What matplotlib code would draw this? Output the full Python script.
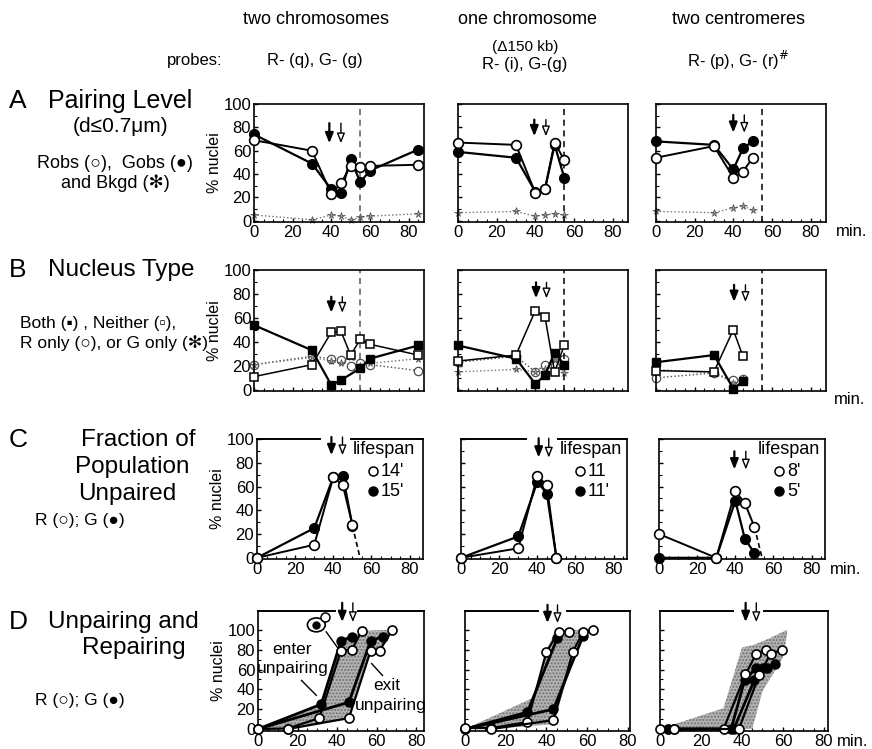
import matplotlib
matplotlib.use('Agg')
import matplotlib.pyplot as plt
from matplotlib.patches import Ellipse

plt.rcParams['font.family'] = ['Liberation Sans', 'DejaVu Sans']

# ---- data ----
# A: pairing level
A1_t = [0, 30, 40, 45, 50, 55, 60, 85]
A1_R = [69, 60, 23, 32, 47, 46, 47, 48]
A1_G = [74, 49, 27, 24, 53, 33, 43, 61]
A1_bg = [5, 1, 5, 4, 1, 3, 4, 6]

A2_t = [0, 30, 40, 45, 50, 55]
A2_R = [67, 65, 24, 27, 67, 52]
A2_G = [59, 54, 25, 27, 65, 37]
A2_bg = [7, 8, 4, 5, 6, 5]

A3_t = [0, 30, 40, 45, 50]
A3_R = [54, 64, 37, 42, 54]
A3_G = [68, 65, 44, 62, 68]
A3_bg = [8, 7, 11, 13, 9]

# B: nucleus type
B1_t = [0, 30, 40, 45, 50, 55, 60, 85]
B1_both_t = [0, 30, 40, 45, 55, 60, 85]
B1_both = [54, 33, 4, 8, 18, 26, 37]
B1_neither = [11, 21, 48, 49, 29, 42, 38, 29]
B1_Ronly = [21, 28, 26, 25, 20, 22, 21, 16]
B1_Gonly = [21, 27, 24, 22, 27, 20, 22, 26]

B2_t = [0, 30, 40, 45, 50, 55]
B2_both = [37, 26, 5, 12, 31, 21]
B2_neither = [24, 29, 66, 61, 15, 37]
B2_Ronly = [23, 28, 15, 21, 21, 26]
B2_Gonly = [15, 17, 15, 17, 25, 14]

B3_t = [0, 30, 40, 45]
B3_both = [23, 29, 1, 7]
B3_neither = [16, 15, 50, 28]
B3_Ronly = [10, 14, 8, 9]
B3_Gonly = [17, 14, 6, 9]

# C: fraction unpaired
C1_t = [0, 30, 40, 45, 50]
C1_R = [0, 11, 68, 61, 28]
C1_G = [0, 25, 68, 69, 27]
C1_ext = ([50, 54], [27, 0])
C1_life = ["14'", "15'"]

C2_t = [0, 30, 40, 45, 50]
C2_R = [0, 8, 69, 61, 0]
C2_G = [0, 18, 64, 54, 0]
C2_life = ["11", "11'"]

C3_t = [0, 30, 40, 45, 50]
C3_R = [20, 0, 56, 46, 26]
C3_G = [0, 0, 48, 16, 4]
C3_ext = ([50, 54], [26, 0])
C3_life = ["8'", "5'"]

# D: unpairing and repairing (cumulative)
D1_Ren_t = [0, 15, 31, 42, 47.5, 52.5]
D1_Ren = [0, 0.5, 11, 79, 80, 99]
D1_Gen_t = [0, 32, 42, 47.5]
D1_Gen = [0, 25, 89, 93]
D1_Rex_t = [15, 46, 57, 61.5, 68]
D1_Rex = [0, 11, 79, 79, 100]
D1_Gex_t = [0, 46, 57, 63]
D1_Gex = [0, 27, 89, 93]
D1_shade_x = [0, 32, 42, 48, 53, 66, 68, 61.5, 57, 46, 15]
D1_shade_y = [0, 25, 88, 93, 99, 100, 100, 79, 79, 11, 0]

D2_Ren_t = [0, 13, 30.6, 40, 46, 51]
D2_Ren = [1, 1, 7, 78, 98, 98]
D2_Gen_t = [0, 30.6, 45.4]
D2_Gen = [0, 17, 92]
D2_Rex_t = [13, 43.4, 53, 58, 63]
D2_Rex = [0, 9, 78, 98, 100]
D2_Gex_t = [0, 43.4, 58]
D2_Gex = [0, 20, 94]
D2_shade_x = [0, 33, 37, 40, 44, 51, 57, 56, 53, 47, 44, 13]
D2_shade_y = [0, 31, 48, 78, 98, 100, 100, 98, 68, 30, 5, 0]

D3_Ren_t = [0, 7, 31, 41.7, 47, 51.7]
D3_Ren = [0, 0, 0, 55, 76, 80]
D3_Gen_t = [4, 34.7, 41.3, 47, 50.5]
D3_Gen = [0, 0, 49, 62, 62]
D3_Rex_t = [7, 38.5, 48.3, 54, 59.7]
D3_Rex = [0, 0, 54, 76, 80]
D3_Gex_t = [4, 36, 46, 52, 56.3]
D3_Gex = [0, 0, 49, 62, 66]
D3_shade_x = [0, 31, 40, 46, 53, 62, 62, 60, 50, 45, 38]
D3_shade_y = [0, 21, 82, 85, 91, 100, 95, 72, 38, 0, 0]

W, H = 872, 749
fig = plt.figure(figsize=(W / 100, H / 100), dpi=100)


def make_ax(l, t, r, b, xmax, ylim, ylab=True, xlab=True):
    ax = fig.add_axes([l / W, 1 - b / H, (r - l) / W, (b - t) / H])
    ax.set_xlim(0, xmax)
    ax.set_ylim(*ylim)
    ax.set_xticks([0, 20, 40, 60, 80])
    ax.set_xticks(range(0, int(xmax) + 1, 5), minor=True)
    ax.set_yticks([0, 20, 40, 60, 80, 100])
    ax.set_yticks(range(0, 101, 10), minor=True)
    ax.tick_params(direction='in', length=3, width=1, labelsize=12, pad=2)
    ax.tick_params(which='minor', direction='in', length=2, width=0.8)
    ax.tick_params(labelleft=ylab, labelbottom=xlab)
    for s in ax.spines.values():
        s.set_linewidth(1.2)
    return ax


def open_c(ax, t, v, ms=7, lw=1.4):
    ax.plot(t, v, '-o', color='k', lw=lw, ms=ms, mfc='white', mec='k', mew=1.2, clip_on=False, zorder=4)


def fill_c(ax, t, v, ms=7, lw=1.6):
    ax.plot(t, v, '-o', color='k', lw=lw, ms=ms, mfc='k', mec='k', clip_on=False, zorder=3)


def star(ax, t, v):
    ax.plot(t, v, ':', color='0.45', lw=1.0, marker='*', ms=5.5, mfc='0.6', mec='0.3', mew=0.5, clip_on=False, zorder=2)


def arrows(ax, x1, x2, ytop, ybot):
    ax.annotate('', xy=(x1, ybot), xytext=(x1, ytop), annotation_clip=False, zorder=6,
                arrowprops=dict(arrowstyle='-|>,head_width=0.24,head_length=0.6', fc='k', ec='k', lw=1.6))
    ax.annotate('', xy=(x2, ybot), xytext=(x2, ytop), annotation_clip=False, zorder=6,
                arrowprops=dict(arrowstyle='-|>,head_width=0.24,head_length=0.6', fc='white', ec='k', lw=1.0))


def broken_top(ax, gap_from, gap_to, ytop, xmax):
    ax.spines['top'].set_visible(False)
    ax.plot([0, gap_from], [ytop, ytop], color='k', lw=1.4, clip_on=False)
    ax.plot([gap_to, xmax], [ytop, ytop], color='k', lw=1.4, clip_on=False)


cols_AB = [254, 458, 656]

# ---- row A ----
A_sets = [(A1_t, A1_R, A1_G, A1_bg), (A2_t, A2_R, A2_G, A2_bg), (A3_t, A3_R, A3_G, A3_bg)]
A_arrows = [(39, 45, 86, 64), (39.5, 45.5, 89, 70), (40, 45.7, 93, 73)]
for i, (t, r, g, bg) in enumerate(A_sets):
    ax = make_ax(cols_AB[i], 104, cols_AB[i] + 170, 222, 88, (-1, 100), ylab=(i == 0))
    star(ax, t, bg)
    fill_c(ax, t, g)
    open_c(ax, t, r)
    ax.axvline(55, color='0.35' if i == 0 else 'k', ls=(0, (4, 3)), lw=1.1)
    arrows(ax, *A_arrows[i])
    if i == 0:
        ax.set_ylabel('% nuclei', fontsize=11.5, labelpad=1)

# ---- row B ----
B_sets = [(B1_t, B1_both_t, B1_both, B1_neither, B1_Ronly, B1_Gonly),
          (B2_t, B2_t, B2_both, B2_neither, B2_Ronly, B2_Gonly),
          (B3_t, B3_t, B3_both, B3_neither, B3_Ronly, B3_Gonly)]
B_arrows = [(40, 45.7, 80, 62), (40.4, 45.8, 92, 74), (40.4, 46.3, 90, 71)]
for i, (t, tb, both, nei, ro, go) in enumerate(B_sets):
    ax = make_ax(cols_AB[i], 270, cols_AB[i] + 170, 391, 88, (-1, 100), ylab=(i == 0), xlab=False)
    ax.plot(t, ro, ':o', color='0.3', lw=1.0, ms=6, mfc='white', mec='0.3', mew=0.9, clip_on=False, zorder=2)
    star(ax, t, go)
    ax.plot(t, nei, '-s', color='k', lw=1.1, ms=6, mfc='white', mec='k', mew=1.1, clip_on=False, zorder=4)
    ax.plot(tb, both, '-s', color='k', lw=1.6, ms=6, mfc='k', mec='k', clip_on=False, zorder=3)
    ax.axvline(55, color='0.35' if i == 0 else 'k', ls=(0, (4, 3)), lw=1.1)
    arrows(ax, *B_arrows[i])
    if i == 0:
        ax.set_ylabel('% nuclei', fontsize=11.5, labelpad=1)

# ---- row C ----
cols_C = [257, 461, 659]
C_sets = [(C1_t, C1_R, C1_G, C1_ext, C1_life), (C2_t, C2_R, C2_G, None, C2_life),
          (C3_t, C3_R, C3_G, C3_ext, C3_life)]
C_arrows = [(39, 44.8, 104, 84), (40.7, 46, 103, 82), (39.5, 45.5, 92, 72)]
C_gaps = [(33, 49.5), (34, 51), None]
C_leg_x = [50, 51.5, 52]
for i, (t, r, g, ext, life) in enumerate(C_sets):
    ax = make_ax(cols_C[i], 439, cols_C[i] + 166, 559, 87, (-1, 100), ylab=(i == 0))
    if C_gaps[i]:
        broken_top(ax, C_gaps[i][0], C_gaps[i][1], 100, 87)
    if ext:
        ax.plot(ext[0], ext[1], color='k', ls=(0, (3, 2)), lw=1.2)
    fill_c(ax, t, g)
    open_c(ax, t, r)
    arrows(ax, *C_arrows[i])
    lx = C_leg_x[i]
    ax.text(lx, 91, 'lifespan', fontsize=13, va='center', ha='left')
    ax.plot([lx + 11], [73], 'o', ms=6.5, mfc='white', mec='k', mew=1.1, clip_on=False)
    ax.plot([lx + 11], [56], 'o', ms=6.5, mfc='k', mec='k', clip_on=False)
    ax.text(lx + 15, 73, life[0], fontsize=13, va='center', ha='left')
    ax.text(lx + 15, 56, life[1], fontsize=13, va='center', ha='left')
    if i == 0:
        ax.set_ylabel('% nuclei', fontsize=11.5, labelpad=1)

# ---- row D ----
D_boxes = [(258, 424, 84), (465, 630, 81), (660, 828, 82)]
D_sets = [(D1_Ren_t, D1_Ren, D1_Gen_t, D1_Gen, D1_Rex_t, D1_Rex, D1_Gex_t, D1_Gex, D1_shade_x, D1_shade_y),
          (D2_Ren_t, D2_Ren, D2_Gen_t, D2_Gen, D2_Rex_t, D2_Rex, D2_Gex_t, D2_Gex, D2_shade_x, D2_shade_y),
          (D3_Ren_t, D3_Ren, D3_Gen_t, D3_Gen, D3_Rex_t, D3_Rex, D3_Gex_t, D3_Gex, D3_shade_x, D3_shade_y)]
D_arrows = [(42.6, 48, 130, 105), (40.5, 45.4, 128, 104), (41.8, 47, 130, 105)]
D_gaps = [(39, 50.5), (36, 50), (35.5, 51)]
for i, (rt, rv, gt, gv, xt, xv, yt, yv, sx, sy) in enumerate(D_sets):
    l, r, xmax = D_boxes[i]
    ax = make_ax(l, 611, r, 731, xmax, (-2, 119), ylab=(i == 0))
    broken_top(ax, D_gaps[i][0], D_gaps[i][1], 119, xmax)
    ax.fill(sx, sy, facecolor='0.7', edgecolor='0.45', hatch='.....', lw=0, zorder=1)
    fill_c(ax, gt, gv, ms=6.5, lw=2)
    fill_c(ax, yt, yv, ms=6.5, lw=2)
    open_c(ax, rt, rv, ms=6.5, lw=1.6)
    open_c(ax, xt, xv, ms=6.5, lw=1.6)
    arrows(ax, *D_arrows[i])
    if i == 0:
        ax.set_ylabel('% nuclei', fontsize=11.5, labelpad=1)
        ax.text(17, 80, 'enter', fontsize=12.5, ha='center', va='center')
        ax.text(17.5, 61, 'unpairing', fontsize=12.5, ha='center', va='center')
        ax.plot([22, 29.5], [49, 34], color='k', lw=1)
        ax.text(65, 44, 'exit', fontsize=12.5, ha='center', va='center')
        ax.text(67, 24, 'unpairing', fontsize=12.5, ha='center', va='center')
        ax.plot([57.5, 63], [66, 54], color='k', lw=1)
        # nucleus icon
        ax.add_patch(Ellipse((29.5, 105), 9, 14, facecolor='white', edgecolor='k', lw=1.2, clip_on=False, zorder=5))
        ax.plot([29.5], [105], 'o', ms=5, color='k', clip_on=False, zorder=6)
        ax.plot([34], [113], 'o', ms=6.5, mfc='white', mec='k', mew=1.1, clip_on=False, zorder=6)
        ax.plot([34.5, 41], [98, 80], color='k', lw=1)

# ---- "min." labels ----
fig.text(836 / W, 1 - 232 / H, 'min.', fontsize=12, va='center', ha='left')
fig.text(834 / W, 1 - 400 / H, 'min.', fontsize=12, va='center', ha='left')
fig.text(830 / W, 1 - 569 / H, 'min.', fontsize=12, va='center', ha='left')
fig.text(837 / W, 1 - 742 / H, 'min.', fontsize=12, va='center', ha='left')


def ft(x, y, s, **kw):
    fig.text(x / W, 1 - y / H, s, va='center', **kw)


# ---- headers ----
ft(316, 20, 'two chromosomes', fontsize=13, ha='center')
ft(527, 20, 'one chromosome', fontsize=13, ha='center')
ft(738, 20, 'two centromeres', fontsize=13, ha='center')
ft(195, 60, 'probes:', fontsize=12, ha='center')
ft(315, 60, 'R- (q), G- (g)', fontsize=12, ha='center')
ft(525, 47, '(\u0394150 kb)', fontsize=11, ha='center')
ft(525, 65, 'R- (i), G-(g)', fontsize=12, ha='center')
ft(738, 60, 'R- (p), G- (r)$^{\\#}$', fontsize=12, ha='center')

# ---- left labels ----
ft(18, 101, 'A', fontsize=19, ha='center')
ft(48, 101, 'Pairing Level', fontsize=18, ha='left')
ft(121, 126, '(d\u22640.7\u03bcm)', fontsize=15, ha='center')
ft(115, 163, 'Robs (\u25cb),  Gobs (\u25cf)', fontsize=13, ha='center')
ft(115, 183, 'and Bkgd (\u273b)', fontsize=13, ha='center')

ft(18, 270, 'B', fontsize=19, ha='center')
ft(48, 270, 'Nucleus Type', fontsize=17.5, ha='left')
ft(20, 323, 'Both (\u25aa) , Neither (\u25ab),', fontsize=12.5, ha='left')
ft(20, 343, 'R only (\u25cb), or G only (\u273b)', fontsize=12.5, ha='left')

ft(18, 440, 'C', fontsize=19, ha='center')
ft(138, 440, 'Fraction of', fontsize=17.5, ha='center')
ft(132, 467, 'Population', fontsize=17.5, ha='center')
ft(127, 494, 'Unpaired', fontsize=17.5, ha='center')
ft(80, 520, 'R (\u25cb); G (\u25cf)', fontsize=12.5, ha='center')

ft(18, 622, 'D', fontsize=19, ha='center')
ft(48, 622, 'Unpairing and', fontsize=17.5, ha='left')
ft(134, 648, 'Repairing', fontsize=17.5, ha='center')
ft(80, 700, 'R (\u25cb); G (\u25cf)', fontsize=12.5, ha='center')

fig.savefig('out.png', dpi=100)
